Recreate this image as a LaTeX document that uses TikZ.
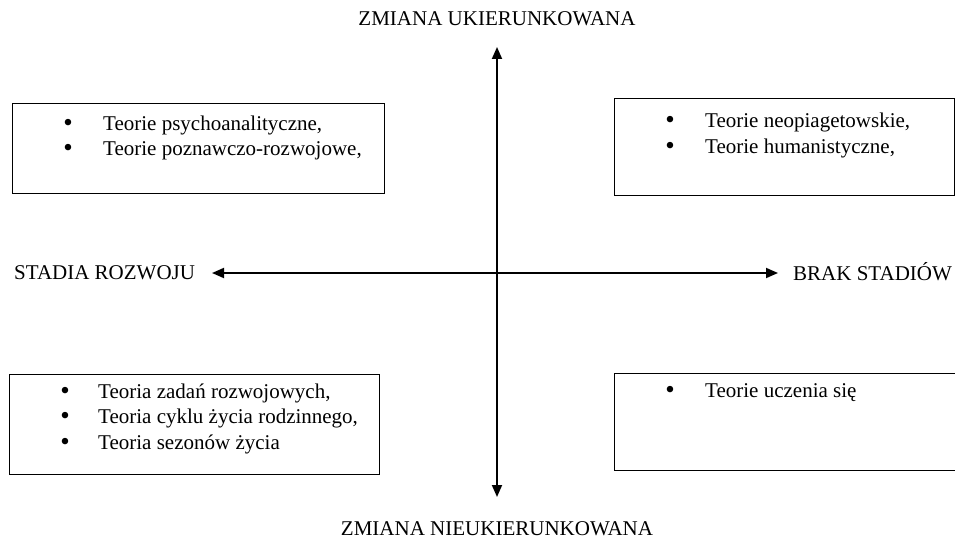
\documentclass[tikz,border=0pt]{standalone}
\usepackage{fontspec}
\setmainfont{Liberation Serif}
\usetikzlibrary{arrows.meta}
\begin{document}
\begin{tikzpicture}[x=1pt,y=-1pt,
  every node/.style={font=\fontsize{21}{25}\selectfont},
  lbl/.style={inner sep=0pt, anchor=base},
  item/.style={inner sep=0pt, anchor=base west},
  dot/.style={inner sep=0pt, anchor=base, font=\fontsize{27}{30}\selectfont},
  group/.style={draw, line width=1.3pt, inner sep=0pt, anchor=north west},
  axis/.style={line width=1.8pt, {Triangle[length=12pt,width=10pt]}-{Triangle[length=12pt,width=10pt]}}
]
\clip (0,0) rectangle (955,540);

% axis labels
\node[lbl] (top)    at (497,26)  {ZMIANA UKIERUNKOWANA};
\node[lbl] (bottom) at (497,535) {ZMIANA NIEUKIERUNKOWANA};
\node[item] (left)  at (14,279)  {STADIA ROZWOJU};
\node[item] (right) at (793,280) {BRAK STADIÓW};

% axis end points
\coordinate (n) at (497,47);
\coordinate (s) at (497,497);
\coordinate (w) at (212,273);
\coordinate (e) at (778,273);
\draw[axis] (n) -- (s);
\draw[axis] (w) -- (e);

% quadrant boxes
\node[group, minimum width=372pt, minimum height=90pt] (tl) at (12,103) {};
\node[group, minimum width=340pt, minimum height=97pt] (tr) at (614,98) {};
\node[group, minimum width=370pt, minimum height=100pt] (bl) at (9,374) {};
\node[group, minimum width=350pt, minimum height=97pt] (br) at (614,373) {};

% top-left items
\node[dot] (tl1b) at (68,132) {\textbullet};
\node[item] (tl1) at (103,131) {Teorie psychoanalityczne,};
\node[dot] (tl2b) at (68,157) {\textbullet};
\node[item] (tl2) at (103,156) {Teorie poznawczo-rozwojowe,};

% top-right items
\node[dot] (tr1b) at (670,129) {\textbullet};
\node[item] (tr1) at (705,128) {Teorie neopiagetowskie,};
\node[dot] (tr2b) at (670,155) {\textbullet};
\node[item] (tr2) at (705,154) {Teorie humanistyczne,};

% bottom-left items
\node[dot] (bl1b) at (65,399) {\textbullet};
\node[item] (bl1) at (98,398) {Teoria zadań rozwojowych,};
\node[dot] (bl2b) at (65,424) {\textbullet};
\node[item] (bl2) at (98,423) {Teoria cyklu życia rodzinnego,};
\node[dot] (bl3b) at (65,450) {\textbullet};
\node[item] (bl3) at (98,449) {Teoria sezonów życia};

% bottom-right item
\node[dot] (br1b) at (670,398) {\textbullet};
\node[item] (br1) at (705,397) {Teorie uczenia się};
\end{tikzpicture}
\end{document}
